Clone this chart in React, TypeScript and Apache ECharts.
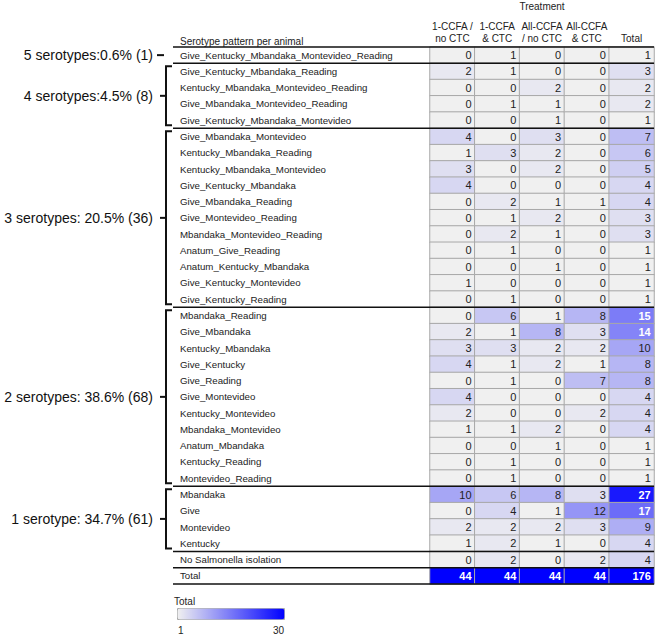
import React, { useEffect, useRef } from 'react';
import * as echarts from 'echarts';

const treatments = ['1-CCFA /\nno CTC', '1-CCFA\n& CTC', 'All-CCFA\n/ no CTC', 'All-CCFA\n& CTC', 'Total'];

const patterns = [
  'Give_Kentucky_Mbandaka_Montevideo_Reading',
  'Give_Kentucky_Mbandaka_Reading',
  'Kentucky_Mbandaka_Montevideo_Reading',
  'Give_Mbandaka_Montevideo_Reading',
  'Give_Kentucky_Mbandaka_Montevideo',
  'Give_Mbandaka_Montevideo',
  'Kentucky_Mbandaka_Reading',
  'Kentucky_Mbandaka_Montevideo',
  'Give_Kentucky_Mbandaka',
  'Give_Mbandaka_Reading',
  'Give_Montevideo_Reading',
  'Mbandaka_Montevideo_Reading',
  'Anatum_Give_Reading',
  'Anatum_Kentucky_Mbandaka',
  'Give_Kentucky_Montevideo',
  'Give_Kentucky_Reading',
  'Mbandaka_Reading',
  'Give_Mbandaka',
  'Kentucky_Mbandaka',
  'Give_Kentucky',
  'Give_Reading',
  'Give_Montevideo',
  'Kentucky_Montevideo',
  'Mbandaka_Montevideo',
  'Anatum_Mbandaka',
  'Kentucky_Reading',
  'Montevideo_Reading',
  'Mbandaka',
  'Give',
  'Montevideo',
  'Kentucky',
  'No Salmonella isolation',
  'Total',
];

const oneCcfaNoCtc = [0, 2, 0, 0, 0, 4, 1, 3, 4, 0, 0, 0, 0, 0, 1, 0, 0, 2, 3, 4, 0, 4, 2, 1, 0, 0, 0, 10, 0, 2, 1, 0, 44];
const oneCcfaCtc = [1, 1, 0, 1, 0, 0, 3, 0, 0, 2, 1, 2, 1, 0, 0, 1, 6, 1, 3, 1, 1, 0, 0, 1, 0, 1, 1, 6, 4, 2, 2, 2, 44];
const allCcfaNoCtc = [0, 0, 2, 1, 1, 3, 2, 2, 0, 1, 2, 1, 0, 1, 0, 0, 1, 8, 2, 2, 0, 0, 0, 2, 1, 0, 0, 8, 1, 2, 1, 0, 44];
const allCcfaCtc = [0, 0, 0, 0, 0, 0, 0, 0, 0, 1, 0, 0, 0, 0, 0, 0, 8, 3, 2, 1, 7, 0, 2, 0, 0, 0, 0, 3, 12, 3, 0, 2, 44];
const totals = [1, 3, 2, 2, 1, 7, 6, 5, 4, 4, 3, 3, 1, 1, 1, 1, 15, 14, 10, 8, 8, 4, 4, 4, 1, 1, 1, 27, 17, 9, 4, 4, 176];

const groupLabels = [
  '5 serotypes:0.6% (1)',
  '4 serotypes:4.5% (8)',
  '3 serotypes: 20.5% (36)',
  '2 serotypes: 38.6% (68)',
  '1 serotype: 34.7% (61)',
];
const groupSizes = [1, 4, 11, 11, 4];
// row indices at which black separator rules are drawn
const ruleRows = [0, 1, 5, 16, 27, 31, 32, 33];

const legendMin = 1;
const legendMax = 30;

const FONT = 'Liberation Sans, Arial, Helvetica, sans-serif';

export default function App() {
  const ref = useRef<HTMLDivElement>(null);

  useEffect(() => {
    if (!ref.current) return;
    const chart = echarts.init(ref.current, undefined, { renderer: 'svg' });

    const W = 660;
    const H = 635;
    const gridLeft = 430;
    const gridRight = 6;
    const gridTop = 47;
    const gridBottom = 51;
    const rowH = (H - gridTop - gridBottom) / patterns.length;

    const cols = [oneCcfaNoCtc, oneCcfaCtc, allCcfaNoCtc, allCcfaCtc, totals];
    const data: any[] = [];
    cols.forEach((arr, c) => {
      arr.forEach((v, r) => {
        const light = v >= 13;
        data.push({
          value: [c, r, v],
          label: { color: light ? '#ffffff' : '#222222', fontWeight: light ? 'bold' : 'normal' },
        });
      });
    });

    const graphics: any[] = [];
    // separator rules
    ruleRows.forEach((ri) => {
      const y = gridTop + ri * rowH;
      graphics.push({
        type: 'line',
        shape: { x1: 173, y1: y, x2: W - gridRight, y2: y },
        style: { stroke: '#111', lineWidth: 1.5 },
        z: 100,
      });
    });
    // brackets and group labels
    let start = 0;
    groupSizes.forEach((n, gi) => {
      const yTop = gridTop + start * rowH;
      const yBot = gridTop + (start + n) * rowH;
      const mid = (yTop + yBot) / 2;
      if (n === 1) {
        graphics.push({
          type: 'line',
          shape: { x1: 157, y1: mid, x2: 164, y2: mid },
          style: { stroke: '#111', lineWidth: 2 },
        });
      } else {
        graphics.push({
          type: 'polyline',
          shape: {
            points: [
              [172, yTop + 3],
              [166, yTop + 3],
              [166, yBot - 3],
              [172, yBot - 3],
            ],
          },
          style: { stroke: '#111', lineWidth: 2, fill: null },
        });
        graphics.push({
          type: 'line',
          shape: { x1: 160, y1: mid, x2: 166, y2: mid },
          style: { stroke: '#111', lineWidth: 2 },
        });
      }
      graphics.push({
        type: 'text',
        x: 153,
        y: mid,
        style: {
          text: groupLabels[gi],
          align: 'right',
          verticalAlign: 'middle',
          fontSize: 14,
          fontFamily: FONT,
          fill: '#111',
        },
      });
      start += n;
    });
    // headers
    graphics.push({
      type: 'text',
      x: 542,
      y: 6,
      style: { text: 'Treatment', align: 'center', verticalAlign: 'middle', fontSize: 10, fontFamily: FONT, fill: '#222' },
    });
    graphics.push({
      type: 'text',
      x: 180,
      y: 41,
      style: { text: 'Serotype pattern per animal', align: 'left', verticalAlign: 'middle', fontSize: 10, fontFamily: FONT, fill: '#222' },
    });
    // legend texts
    graphics.push({
      type: 'text',
      x: 174,
      y: 601,
      style: { text: 'Total', align: 'left', verticalAlign: 'middle', fontSize: 10, fontFamily: FONT, fill: '#222' },
    });
    graphics.push({
      type: 'text',
      x: 178,
      y: 630,
      style: { text: String(legendMin), align: 'left', verticalAlign: 'middle', fontSize: 10, fontFamily: FONT, fill: '#222' },
    });
    graphics.push({
      type: 'text',
      x: 284,
      y: 630,
      style: { text: String(legendMax), align: 'right', verticalAlign: 'middle', fontSize: 10, fontFamily: FONT, fill: '#222' },
    });

    chart.setOption({
      animation: false,
      backgroundColor: '#ffffff',
      textStyle: { fontFamily: FONT },
      grid: { left: gridLeft, right: gridRight, top: gridTop, bottom: gridBottom },
      xAxis: {
        type: 'category',
        data: treatments,
        position: 'top',
        axisLine: { show: false },
        axisTick: { show: false },
        splitLine: { show: false },
        axisLabel: { interval: 0, fontSize: 10, lineHeight: 12, margin: 3, color: '#222', fontFamily: FONT },
      },
      yAxis: {
        type: 'category',
        data: patterns,
        inverse: true,
        axisLine: { show: false },
        axisTick: { show: false },
        splitLine: { show: false },
        axisLabel: { interval: 0, align: 'left', margin: 250, fontSize: 9.7, color: '#222', fontFamily: FONT },
      },
      visualMap: {
        type: 'continuous',
        min: legendMin,
        max: legendMax,
        orient: 'horizontal',
        calculable: false,
        left: 177,
        top: 608,
        itemWidth: 11,
        itemHeight: 107,
        padding: 0,
        borderColor: '#aaaaaa',
        borderWidth: 1,
        showLabel: false,
        seriesIndex: 0,
        inRange: { color: ['#f0f0f0', '#0000ff'] },
      },
      series: [
        {
          type: 'heatmap',
          data,
          itemStyle: { borderColor: '#a8a8a8', borderWidth: 1 },
          label: {
            show: true,
            position: 'insideRight',
            distance: 4,
            fontSize: 11,
            fontFamily: FONT,
            formatter: (p: any) => String(p.value[2]),
          },
          emphasis: { disabled: true },
        },
      ],
      graphic: graphics,
    });

    return () => chart.dispose();
  }, []);

  return (
    <div
      ref={ref}
      style={{ position: 'fixed', left: 0, top: 0, width: 660, height: 635, background: '#fff' }}
    />
  );
}
